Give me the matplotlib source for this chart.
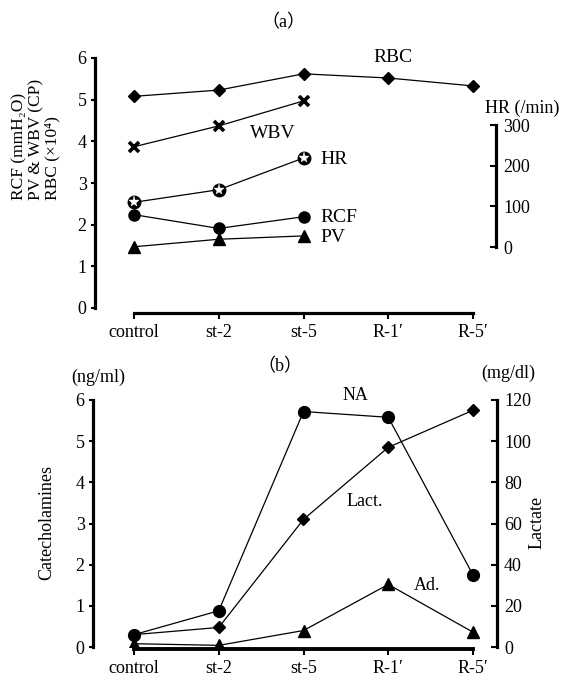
import matplotlib
matplotlib.use('Agg')
import matplotlib.pyplot as plt
from matplotlib.ticker import FixedLocator

plt.rcParams['font.family'] = ['Liberation Serif', 'DejaVu Serif', 'Noto Sans CJK JP']

# ---------------- data ----------------
categories = ['control', 'st-2', 'st-5', 'R-1′', 'R-5′']

# panel (a)
rbc = [5.08, 5.23, 5.62, 5.52, 5.33]      # x10^4
wbv = [3.87, 4.37, 4.97]                  # CP
hr = [110, 141, 219]                      # /min
rcf = [2.24, 1.91, 2.19]                  # mmH2O
pv = [1.47, 1.65, 1.73]                   # CP
a_left_ticks = [0, 1, 2, 3, 4, 5, 6]
hr_ticks = [0, 100, 200, 300]

# panel (b)
na = [0.30, 0.88, 5.72, 5.58, 1.75]       # ng/ml
ad = [0.08, 0.04, 0.40, 1.52, 0.36]       # ng/ml
lact = [6, 9.5, 62, 97, 115]              # mg/dl
b_left_ticks = [0, 1, 2, 3, 4, 5, 6]
lact_ticks = [0, 20, 40, 60, 80, 100, 120]

# ---------------- layout helpers ----------------
W, H = 580, 680
fig = plt.figure(figsize=(5.8, 6.8), dpi=100)


def fx(x):
    return x / W


def fy(y):
    return 1 - y / H


STEP = 84.75
FS = 13
LW = 0.9
SPW = 2.3


def style_left(ax, ticks):
    ax.spines['top'].set_visible(False)
    ax.spines['right'].set_visible(False)
    ax.spines['left'].set_linewidth(SPW)
    ax.spines['bottom'].set_linewidth(SPW)
    ax.spines['bottom'].set_bounds(0, 4)
    ax.set_yticks(ticks)
    ax.yaxis.set_minor_locator(FixedLocator([ticks[0], ticks[-1]]))
    ax.tick_params(axis='y', which='major', direction='out', length=3, width=1.5,
                   labelsize=FS, pad=3)
    ax.tick_params(axis='y', which='minor', direction='in', length=5, width=2)
    ax.set_xticks(range(len(categories)))
    ax.set_xticklabels(categories)
    ax.tick_params(axis='x', direction='out', length=4, width=1.5, labelsize=FS, pad=4)


def style_right(ax, ticks, bounds):
    for s in ['left', 'top', 'bottom']:
        ax.spines[s].set_visible(False)
    ax.spines['right'].set_linewidth(SPW)
    ax.spines['right'].set_bounds(*bounds)
    ax.set_yticks(ticks)
    ax.tick_params(axis='y', direction='in', length=4, width=1.5, labelsize=FS, pad=5)


# ---------------- panel (a) ----------------
axa = fig.add_axes([fx(95), fy(308), fx(496) - fx(95), 250 / H])
axa.set_xlim(-(134 - 95) / STEP, 4 + (496 - 473) / STEP)
axa.set_ylim(0, 6)
style_left(axa, a_left_ticks)
axa.spines['bottom'].set_position(('outward', 3.6))

x5 = list(range(len(categories)))
x3 = x5[:3]
axa.plot(x5, rbc, '-', color='k', lw=LW, marker='D', ms=6.5, mfc='k', mec='k', zorder=3)
axa.plot(x3, wbv, '-', color='k', lw=LW, marker='x', ms=7.5, mew=2.6, mec='k', zorder=3)
axa.plot(x3, rcf, '-', color='k', lw=LW, marker='o', ms=8, mfc='k', mec='k', zorder=3)
axa.plot(x3, pv, '-', color='k', lw=LW, marker='^', ms=8, mfc='k', mec='k', zorder=3)

axh = axa.twinx()
axh.set_ylim(-150, 465)
style_right(axh, hr_ticks, (0, 300))
axh.plot(x3, hr, '-', color='k', lw=LW, marker='o', ms=9, mfc='k', mec='k', zorder=3)
axh.plot(x3, hr, 'none', marker='*', ms=8, mfc='white', mec='white', mew=0.3, zorder=4)

fig.text(fx(283), fy(23), '（a）', ha='center', va='center', fontsize=FS)
fig.text(fx(393), fy(57), 'RBC', ha='center', va='center', fontsize=FS + 1)
fig.text(fx(273), fy(133), 'WBV', ha='center', va='center', fontsize=FS + 1)
fig.text(fx(320), fy(160), 'HR', ha='left', va='center', fontsize=FS + 1)
fig.text(fx(320), fy(217), 'RCF', ha='left', va='center', fontsize=FS + 1)
fig.text(fx(320), fy(238), 'PV', ha='left', va='center', fontsize=FS + 1)
fig.text(fx(485), fy(108), 'HR (/min)', ha='left', va='center', fontsize=FS)
fig.text(fx(36), fy(200), 'RCF (mmH₂O)\nPV & WBV (CP)\nRBC (×10⁴)', rotation=90,
         ha='center', va='bottom', multialignment='left', fontsize=12.5, linespacing=1.05)

# ---------------- panel (b) ----------------
axb = fig.add_axes([fx(93), fy(647), fx(497) - fx(93), 247 / H])
axb.set_xlim(-(134 - 93) / STEP, 4 + (497 - 473) / STEP)
axb.set_ylim(0, 6)
style_left(axb, b_left_ticks)
axb.spines['bottom'].set_position(('outward', 1.5))
axb.spines['bottom'].set_linewidth(2.8)

axb.plot(x5, na, '-', color='k', lw=LW, marker='o', ms=8.5, mfc='k', mec='k', zorder=3)
axb.plot(x5, ad, '-', color='k', lw=LW, marker='^', ms=8, mfc='k', mec='k', zorder=3)

axl = axb.twinx()
axl.set_ylim(0, 120)
style_right(axl, lact_ticks, (0, 120))
axl.plot(x5, lact, '-', color='k', lw=LW, marker='D', ms=6.5, mfc='k', mec='k', zorder=3)

fig.text(fx(280), fy(367), '（b）', ha='center', va='center', fontsize=FS)
fig.text(fx(98), fy(377), '(ng/ml)', ha='center', va='center', fontsize=FS)
fig.text(fx(508), fy(373), '(mg/dl)', ha='center', va='center', fontsize=FS)
fig.text(fx(355), fy(395), 'NA', ha='center', va='center', fontsize=FS)
fig.text(fx(365), fy(502), 'Lact.', ha='center', va='center', fontsize=FS)
fig.text(fx(427), fy(586), 'Ad.', ha='center', va='center', fontsize=FS)
fig.text(fx(47), fy(523), 'Catecholamines', rotation=90, ha='center', va='center', fontsize=FS)
fig.text(fx(537), fy(522), 'Lactate', rotation=90, ha='center', va='center', fontsize=FS)

fig.savefig('out.png', dpi=100)
